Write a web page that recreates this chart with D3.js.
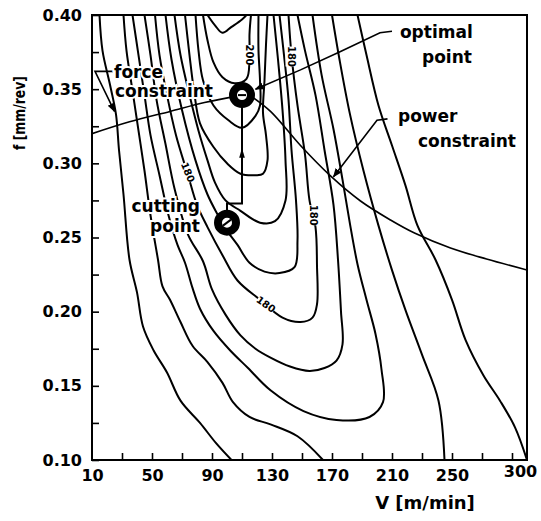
<!DOCTYPE html>
<html>
<head>
<meta charset="utf-8">
<script src="https://cdn.jsdelivr.net/npm/d3@7"></script>
<style>
  body { margin: 0; background: #fff; }
  text { font-family: "DejaVu Sans", sans-serif; font-weight: bold; fill: #000; }
</style>
</head>
<body>
<div id="chart"></div>
<script>
// tick labels
const vTicks = [10, 50, 90, 130, 170, 210, 250, 300];
const fTicks = [0.10, 0.15, 0.20, 0.25, 0.30, 0.35, 0.40];

// contour lines as [V, f] (outer to inner)
const aLeft = [[15,0.400],[17,0.376],[22,0.353],[26,0.333],[28,0.309],[31,0.279],[35,0.235],[40,0.213],[44,0.190],[51,0.174],[60,0.159],[69,0.140],[82,0.125],[93,0.111],[103,0.100]];
const aRight = [[187,0.400],[193,0.373],[201,0.339],[210,0.312],[219,0.285],[227,0.258],[239,0.235],[250,0.208],[259,0.181],[271,0.157],[282,0.140],[292,0.122],[300,0.100]];
const bLeft = [[31,0.400],[33,0.376],[37,0.349],[41,0.322],[45,0.295],[49,0.265],[54,0.235],[57,0.217],[62,0.208],[69,0.193],[77,0.177],[87,0.166],[97,0.152],[104,0.139],[115,0.129],[129,0.124],[147,0.116],[164,0.100]];
const bRight = [[245,0.100],[241,0.140],[230,0.171],[219,0.201],[210,0.228],[201,0.258],[191,0.295],[182,0.333],[175,0.370],[170,0.400]];
const cLine = [[37,0.400],[41,0.373],[45,0.346],[49,0.319],[55,0.292],[61,0.265],[67,0.245],[72,0.233],[77,0.216],[82,0.202],[91,0.187],[102,0.174],[114,0.162],[129,0.147],[151,0.133],[173,0.127],[195,0.129],[204,0.139],[203,0.161],[199,0.185],[193,0.208],[187,0.232],[182,0.259],[177,0.289],[171,0.323],[163,0.360],[157,0.400]];
const dLine = [[45,0.400],[49,0.373],[53,0.343],[59,0.313],[65,0.283],[74,0.252],[84,0.234],[90,0.215],[99,0.198],[109,0.184],[119,0.175],[129,0.169],[142,0.163],[155,0.160],[165,0.162],[173,0.167],[177,0.178],[176,0.200],[174,0.235],[171,0.272],[165,0.309],[159,0.346],[152,0.376],[147,0.400]];
const eLine = [[52,0.400],[55,0.373],[60,0.346],[66,0.319],[74,0.292],[80,0.272],[87,0.257],[97,0.238],[107,0.221],[122,0.208],[137,0.196],[149,0.193],[157,0.196],[160,0.205],[160,0.231],[159,0.257],[155,0.275],[152,0.306],[147,0.339],[143,0.373],[141,0.400]];
const fLine = [[59,0.400],[63,0.370],[70,0.336],[79,0.302],[87,0.279],[94,0.265],[99,0.256],[107,0.245],[115,0.233],[125,0.227],[135,0.226],[145,0.230],[147,0.248],[146,0.275],[143,0.309],[141,0.343],[138,0.373],[135,0.400]];
const gLine = [[65,0.400],[69,0.373],[75,0.346],[81,0.322],[87,0.302],[92,0.287],[99,0.275],[109,0.268],[122,0.260],[132,0.261],[139,0.275],[139,0.302],[137,0.336],[134,0.370],[131,0.400]];
const hLine = [[72,0.400],[75,0.373],[78,0.349],[82,0.327],[91,0.311],[100,0.300],[109,0.293],[119,0.292],[124,0.293],[127,0.302],[126,0.319],[124,0.334],[125,0.356],[126,0.380],[127,0.400]];
const iLine = [[79,0.400],[81,0.376],[84,0.356],[91,0.339],[101,0.329],[110,0.324],[119,0.332],[122,0.339],[122,0.356],[121,0.376],[121,0.400]];
const line200 = [[84,0.400],[87,0.383],[91,0.368],[97,0.358],[105,0.354],[113,0.357],[115,0.370],[115,0.387],[116,0.400]];
const line220 = [[87,0.400],[92,0.393],[97,0.388],[103,0.392],[110,0.397],[113,0.400]];

// contour value labels
const contourLabels = [
  { text: '200', v: 115, f: 0.373, angle: 90 },
  { text: '180', v: 143, f: 0.372, angle: 90 },
  { text: '180', v: 74, f: 0.294, angle: 68 },
  { text: '180', v: 158, f: 0.265, angle: 90 },
  { text: '180', v: 126, f: 0.205, angle: 35 }
];

// constraints
const forceV = [10, 35, 62, 85, 110];
const forceF = [0.320, 0.328, 0.335, 0.341, 0.346];
const powerV = [115, 129, 149, 169, 189, 209, 225, 249, 273, 300];
const powerF = [0.346, 0.335, 0.312, 0.2915, 0.2746, 0.2618, 0.253, 0.2429, 0.2355, 0.2281];

// search path from the cutting point to the optimal point
const pathV = [100, 100, 110, 110];
const pathF = [0.260, 0.273, 0.273, 0.346];
const cuttingPoint = [100, 0.260];
const optimalPoint = [110, 0.346];

// annotation leaders and texts
const forceLeader = [[24,0.362],[12,0.362],[25,0.335]];
const optimalLeader = [[210,0.389],[202,0.388],[175,0.375],[149,0.363],[119,0.350]];
const powerLeader = [[207,0.330],[200,0.329],[171,0.291]];
const notes = [
  { text: 'force', v: 24.7, f: 0.3575, anchor: 'start' },
  { text: 'constraint', v: 25.3, f: 0.3447, anchor: 'start' },
  { text: 'optimal', v: 215.3, f: 0.3845, anchor: 'start' },
  { text: 'point', v: 230, f: 0.3676, anchor: 'start' },
  { text: 'power', v: 214, f: 0.3279, anchor: 'start' },
  { text: 'constraint', v: 227.3, f: 0.311, anchor: 'start' },
  { text: 'cutting', v: 82, f: 0.2672, anchor: 'end' },
  { text: 'point', v: 82, f: 0.2537, anchor: 'end' }
];

const W = 541, H = 521;
const margin = { top: 15, right: 14, bottom: 61, left: 92 };

const svg = d3.select('#chart').append('svg')
  .attr('width', W)
  .attr('height', H);

const x = d3.scaleLinear().domain([10, 300]).range([margin.left, W - margin.right]);
const y = d3.scaleLinear().domain([0.10, 0.40]).range([H - margin.bottom, margin.top]);

svg.append('clipPath').attr('id', 'plot')
  .append('rect')
  .attr('x', x(10)).attr('y', y(0.40))
  .attr('width', x(300) - x(10)).attr('height', y(0.10) - y(0.40));

const defs = svg.append('defs');
defs.append('marker')
  .attr('id', 'arrow')
  .attr('viewBox', '0 0 10 10')
  .attr('refX', 9).attr('refY', 5)
  .attr('markerWidth', 9).attr('markerHeight', 9)
  .attr('markerUnits', 'userSpaceOnUse')
  .attr('orient', 'auto')
  .append('path')
  .attr('d', 'M0,1 L10,5 L0,9 Z')
  .attr('fill', '#000');

const line = d3.line()
  .x(d => x(d[0]))
  .y(d => y(d[1]))
  .curve(d3.curveCatmullRom.alpha(0.5));

const plot = svg.append('g').attr('clip-path', 'url(#plot)');

// contours
const contourLines = [aLeft, aRight, bLeft, bRight, cLine, dLine, eLine, fLine, gLine, hLine, iLine, line200, line220];
plot.selectAll('path.contour')
  .data(contourLines)
  .enter().append('path')
  .attr('class', 'contour')
  .attr('d', line)
  .attr('fill', 'none')
  .attr('stroke', '#000')
  .attr('stroke-width', 2)
  .attr('stroke-linejoin', 'round');

// constraint curves
const forceLine = forceV.map((v, i) => [v, forceF[i]]);
const powerLine = powerV.map((v, i) => [v, powerF[i]]);
plot.selectAll('path.constraint')
  .data([forceLine, powerLine])
  .enter().append('path')
  .attr('class', 'constraint')
  .attr('d', line)
  .attr('fill', 'none')
  .attr('stroke', '#000')
  .attr('stroke-width', 1.6);

// leaders with arrows
const straight = d3.line().x(d => x(d[0])).y(d => y(d[1]));
plot.selectAll('path.leader')
  .data([forceLeader, optimalLeader, powerLeader])
  .enter().append('path')
  .attr('class', 'leader')
  .attr('d', straight)
  .attr('fill', 'none')
  .attr('stroke', '#000')
  .attr('stroke-width', 1.6)
  .attr('marker-end', 'url(#arrow)');

// search path
const searchPath = pathV.map((v, i) => [v, pathF[i]]);
plot.append('path')
  .attr('d', straight(searchPath))
  .attr('fill', 'none')
  .attr('stroke', '#000')
  .attr('stroke-width', 2);
plot.append('path')
  .attr('d', d3.symbol(d3.symbolTriangle, 28)())
  .attr('transform', `translate(${x(110)},${y(0.306)}) scale(0.7,1.4)`)
  .attr('fill', '#000');

// contour labels
const lab = plot.selectAll('g.clabel')
  .data(contourLabels)
  .enter().append('g')
  .attr('class', 'clabel')
  .attr('transform', d => `translate(${x(d.v)},${y(d.f)}) rotate(${d.angle})`);
lab.append('rect')
  .attr('x', -10).attr('y', -6)
  .attr('width', 20).attr('height', 12)
  .attr('fill', '#fff');
lab.append('text')
  .attr('text-anchor', 'middle')
  .attr('dy', '0.36em')
  .attr('font-size', 10)
  .text(d => d.text);

// point markers
[cuttingPoint, optimalPoint].forEach((p, i) => {
  const g = svg.append('g').attr('transform', `translate(${x(p[0])},${y(p[1])})`);
  g.append('circle')
    .attr('r', 9)
    .attr('fill', '#fff')
    .attr('stroke', '#000')
    .attr('stroke-width', 8);
  g.append('line')
    .attr('x1', -4).attr('x2', 4)
    .attr('y1', i === 0 ? 3 : 0).attr('y2', i === 0 ? -3 : 0)
    .attr('stroke', '#000')
    .attr('stroke-width', 2);
});

// annotation texts
svg.selectAll('text.note')
  .data(notes)
  .enter().append('text')
  .attr('class', 'note')
  .attr('x', d => x(d.v))
  .attr('y', d => y(d.f))
  .attr('text-anchor', d => d.anchor)
  .attr('font-size', 17)
  .attr('stroke', '#fff')
  .attr('stroke-width', 4)
  .attr('paint-order', 'stroke')
  .text(d => d.text);

// axes
const minorV = d3.range(30, 300, 20);
const minorF = d3.range(0.10, 0.4001, 0.025);

svg.append('g')
  .attr('transform', `translate(0,${y(0.10)})`)
  .call(d3.axisBottom(x).tickValues(minorV).tickSize(-7).tickFormat(''))
  .call(g => g.select('.domain').remove())
  .call(g => g.selectAll('line').attr('stroke-width', 1.6));

svg.append('g')
  .attr('transform', `translate(0,${y(0.10)})`)
  .call(d3.axisBottom(x).tickValues(vTicks).tickSize(0).tickPadding(10).tickFormat(d3.format('d')))
  .call(g => g.select('.domain').remove())
  .call(g => g.selectAll('text')
    .attr('font-size', 16)
    .attr('font-family', '"DejaVu Sans", sans-serif')
    .attr('dx', d => d === 300 ? -7 : 0)
    .attr('dy', d => d === 300 ? '0.45em' : '0.71em'));

svg.append('g')
  .attr('transform', `translate(${x(10)},0)`)
  .call(d3.axisLeft(y).tickValues(minorF).tickSize(-7).tickFormat(''))
  .call(g => g.select('.domain').remove())
  .call(g => g.selectAll('line').attr('stroke-width', 1.6));

svg.append('g')
  .attr('transform', `translate(${x(10)},0)`)
  .call(d3.axisLeft(y).tickValues(fTicks).tickSize(0).tickPadding(10).tickFormat(d3.format('.2f')))
  .call(g => g.select('.domain').remove())
  .call(g => g.selectAll('text')
    .attr('font-size', 16)
    .attr('font-family', '"DejaVu Sans", sans-serif'));

// frame
svg.append('rect')
  .attr('x', x(10)).attr('y', y(0.40))
  .attr('width', x(300) - x(10)).attr('height', y(0.10) - y(0.40))
  .attr('fill', 'none')
  .attr('stroke', '#000')
  .attr('stroke-width', 2);

// axis titles
svg.append('text')
  .attr('x', 425).attr('y', 509)
  .attr('text-anchor', 'middle')
  .attr('font-size', 18)
  .text('V [m/min]');

svg.append('text')
  .attr('transform', 'translate(25,113) rotate(-90)')
  .attr('text-anchor', 'middle')
  .attr('font-size', 16)
  .attr('textLength', 74)
  .attr('lengthAdjust', 'spacingAndGlyphs')
  .text('f [mm/rev]');
</script>
</body>
</html>
